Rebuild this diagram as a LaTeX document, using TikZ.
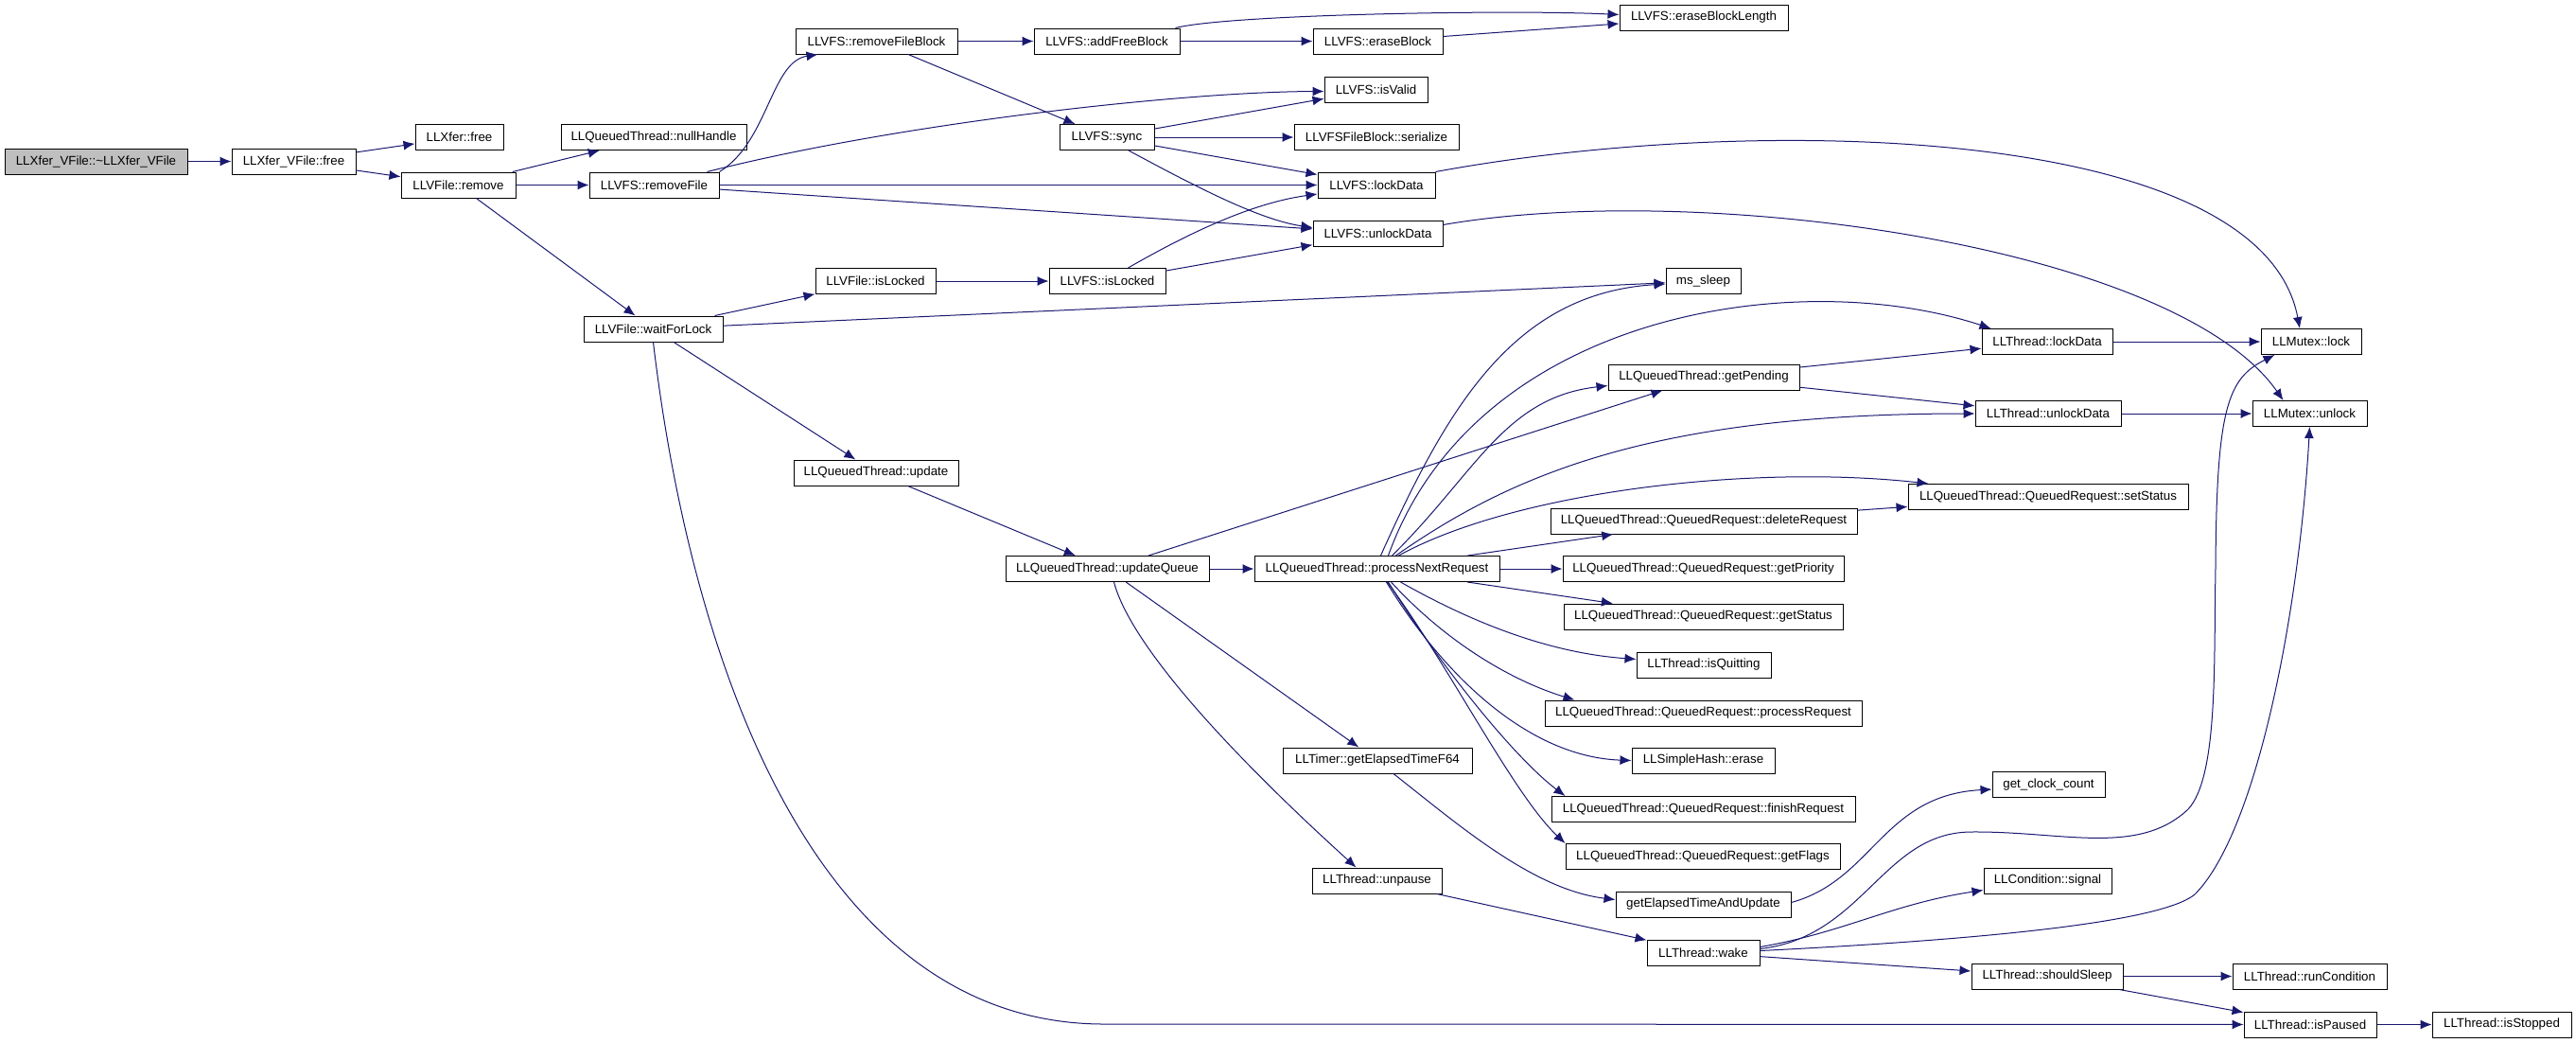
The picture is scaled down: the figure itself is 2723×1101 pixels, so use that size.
\documentclass[tikz,border=0pt]{standalone}
\usepackage{fontspec}
\setmainfont{Liberation Sans}
\usepackage{tikz}
\usetikzlibrary{arrows.meta, calc}
\definecolor{callblue}{RGB}{25,25,112}
\definecolor{rootgray}{RGB}{191,191,191}
\tikzstyle{fn} = [draw=black, line width=0.75pt, rectangle, inner sep=0pt, minimum height=20.25pt, font=\fontsize{10pt}{12pt}\selectfont]
\tikzstyle{call} = [->, draw=callblue, line width=0.75pt]
\tikzset{>={Latex[length=9pt,width=7.5pt]}, boxw/.style={minimum width=#1*0.75pt}}

\begin{document}
\begin{tikzpicture}[x=0.75pt, y=-0.75pt]
\useasboundingbox (0,0) rectangle (2723,1101);
%functions
\node[fn, boxw=193, fill=rootgray] (dtor) at (101.5,170.5) {LLXfer\_VFile::\textasciitilde LLXfer\_VFile};
\node[fn, boxw=131] (vfree) at (310.5,170.5) {LLXfer\_VFile::free};
\node[fn, boxw=93] (xfree) at (485.5,145) {LLXfer::free};
\node[fn, boxw=121] (vremove) at (484.5,195.5) {LLVFile::remove};
\node[fn, boxw=196] (nullh) at (691,145) {LLQueuedThread::nullHandle};
\node[fn, boxw=137] (rmfile) at (691.5,195.5) {LLVFS::removeFile};
\node[fn, boxw=147] (waitlock) at (690.5,347.5) {LLVFile::waitForLock};
\node[fn, boxw=171] (rmblock) at (926.5,43.5) {LLVFS::removeFileBlock};
\node[fn, boxw=127] (fislocked) at (925.5,297) {LLVFile::isLocked};
\node[fn, boxw=174] (qupdate) at (926,499.5) {LLQueuedThread::update};
\node[fn, boxw=154] (addfree) at (1170,43.5) {LLVFS::addFreeBlock};
\node[fn, boxw=100] (sync) at (1170,145) {LLVFS::sync};
\node[fn, boxw=123] (vislocked) at (1170.5,297) {LLVFS::isLocked};
\node[fn, boxw=215] (uqueue) at (1170.5,601) {LLQueuedThread::updateQueue};
\node[fn, boxw=137] (erblock) at (1456.5,43.5) {LLVFS::eraseBlock};
\node[fn, boxw=109] (isvalid) at (1454.5,94.5) {LLVFS::isValid};
\node[fn, boxw=174] (serial) at (1455,145) {LLVFSFileBlock::serialize};
\node[fn, boxw=124] (vlock) at (1455,195.5) {LLVFS::lockData};
\node[fn, boxw=137] (vunlock) at (1456.5,246.5) {LLVFS::unlockData};
\node[fn, boxw=259] (pnr) at (1455.5,601) {LLQueuedThread::processNextRequest};
\node[fn, boxw=200] (elapsed) at (1456,803.5) {LLTimer::getElapsedTimeF64};
\node[fn, boxw=137] (unpause) at (1455.5,930.5) {LLThread::unpause};
\node[fn, boxw=178] (erlen) at (1801,18.5) {LLVFS::eraseBlockLength};
\node[fn, boxw=79] (sleep) at (1800.5,297) {ms\_sleep};
\node[fn, boxw=202] (getpend) at (1801,398.5) {LLQueuedThread::getPending};
\node[fn, boxw=324] (delreq) at (1801,550.5) {LLQueuedThread::QueuedRequest::deleteRequest};
\node[fn, boxw=297] (getprio) at (1800.5,601) {LLQueuedThread::QueuedRequest::getPriority};
\node[fn, boxw=295] (getstat) at (1800.5,651.5) {LLQueuedThread::QueuedRequest::getStatus};
\node[fn, boxw=142] (quitting) at (1801,702.5) {LLThread::isQuitting};
\node[fn, boxw=335] (procreq) at (1800.5,753.5) {LLQueuedThread::QueuedRequest::processRequest};
\node[fn, boxw=151] (hasherase) at (1800.5,803.5) {LLSimpleHash::erase};
\node[fn, boxw=321] (finreq) at (1800.5,855) {LLQueuedThread::QueuedRequest::finishRequest};
\node[fn, boxw=290] (getflags) at (1800,905) {LLQueuedThread::QueuedRequest::getFlags};
\node[fn, boxw=185] (etau) at (1800.5,955.5) {getElapsedTimeAndUpdate};
\node[fn, boxw=119] (wake) at (1800.5,1006.5) {LLThread::wake};
\node[fn, boxw=138] (tlock) at (2164,361) {LLThread::lockData};
\node[fn, boxw=154] (tunlock) at (2165,437) {LLThread::unlockData};
\node[fn, boxw=296] (setstat) at (2165,525) {LLQueuedThread::QueuedRequest::setStatus};
\node[fn, boxw=119] (clock) at (2165.5,829) {get\_clock\_count};
\node[fn, boxw=135] (signal) at (2164.5,930.5) {LLCondition::signal};
\node[fn, boxw=160] (shouldsleep) at (2164,1031.5) {LLThread::shouldSleep};
\node[fn, boxw=106] (mlock) at (2443,361) {LLMutex::lock};
\node[fn, boxw=121] (munlock) at (2441.5,437) {LLMutex::unlock};
\node[fn, boxw=163] (runcond) at (2441.5,1031.5) {LLThread::runCondition};
\node[fn, boxw=140] (paused) at (2442,1082.5) {LLThread::isPaused};
\node[fn, boxw=147] (stopped) at (2644.5,1082.5) {LLThread::isStopped};

%arrows
\draw[call] (dtor) -- (vfree);
\draw[call] (vfree) -- (xfree);
\draw[call] (vfree) -- (vremove);
\draw[call] (vremove) -- (nullh);
\draw[call] (vremove) -- (rmfile);
\draw[call] (vremove) -- (waitlock);
\draw[call] (rmfile.north east) .. controls (812,150) and (815,65) .. ($(rmblock.south west)+(24,0)$);
\draw[call] ($(rmfile.north east)+(-13,0)$) .. controls (950,130) and (1250,97) .. ($(isvalid.west)+(0,2)$);
\draw[call] (rmfile) -- (vlock);
\draw[call] (rmfile) -- (vunlock);
\draw[call] (rmblock) -- (addfree);
\draw[call] (rmblock) -- (sync);
\draw[call] (addfree) -- (erblock);
\draw[call] ($(addfree.north east)+(-5,0)$) .. controls (1300,15) and (1600,10) .. ($(erlen.west)+(0,-3)$);
\draw[call] (erblock) -- (erlen);
\draw[call] (sync) -- (isvalid);
\draw[call] (sync) -- (serial);
\draw[call] (sync) -- (vlock);
\draw[call] ($(sync.south)+(23,0)$) .. controls (1260,195) and (1330,232) .. ($(vunlock.west)+(0,-6)$);
\draw[call] (vlock.north east) .. controls (1850,120) and (2390,130) .. ($(mlock.north)+(-12,0)$);
\draw[call] ($(vunlock.east)+(0,-9)$) .. controls (1800,190) and (2300,260) .. ($(munlock.north)+(-28,0)$);
\draw[call] (fislocked) -- (vislocked);
\draw[call] ($(vislocked.north)+(22,0)$) .. controls (1250,250) and (1320,215) .. ($(vlock.west)+(0,9.5)$);
\draw[call] (vislocked) -- (vunlock);
\draw[call] (waitlock) -- (fislocked);
\draw[call] (waitlock) -- (sleep);
\draw[call] (waitlock) -- (qupdate);
\draw[call] (waitlock.south) .. controls (732,711) and (867,1082) .. (1167,1082) -- (paused);
\draw[call] (qupdate) -- (uqueue);
\draw[call] (uqueue) -- (getpend);
\draw[call] (uqueue) -- (pnr);
\draw[call] (uqueue) -- (elapsed);
\draw[call] ($(uqueue.south)+(7,0)$) .. controls (1200,700) and (1360,850) .. ($(unpause.north)+(-22,0)$);
\draw[call] ($(pnr.north)+(4,0)$) .. controls (1530,430) and (1600,310) .. ($(sleep.west)+(0,3)$);
\draw[call] ($(pnr.north)+(12,0)$) .. controls (1560,330) and (1900,280) .. ($(tlock.north west)+(10,0)$);
\draw[call] ($(pnr.north)+(16,0)$) .. controls (1560,500) and (1590,420) .. ($(getpend.west)+(0,9)$);
\draw[call] ($(pnr.north)+(20,0)$) .. controls (1600,500) and (1750,437) .. (tunlock.west);
\draw[call] ($(pnr.north)+(23,0)$) .. controls (1600,520) and (1850,490) .. ($(setstat.north west)+(22,0)$);
\draw[call] (pnr) -- (delreq);
\draw[call] (pnr) -- (getprio);
\draw[call] (pnr) -- (getstat);
\draw[call] ($(pnr.south)+(25,0)$) .. controls (1560,660) and (1640,690) .. ($(quitting.west)+(0,-6)$);
\draw[call] ($(pnr.south)+(15,0)$) .. controls (1530,680) and (1600,720) .. ($(procreq.north west)+(32,0)$);
\draw[call] ($(pnr.south)+(10,0)$) .. controls (1530,720) and (1620,800) .. (hasherase.west);
\draw[call] ($(pnr.south)+(12,0)$) .. controls (1520,700) and (1600,800) .. ($(finreq.north west)+(15,0)$);
\draw[call] ($(pnr.south)+(11,0)$) .. controls (1530,700) and (1600,840) .. (getflags.north west);
\draw[call] (getpend) -- (tlock);
\draw[call] (getpend) -- (tunlock);
\draw[call] (delreq) -- (setstat);
\draw[call] (tlock) -- (mlock);
\draw[call] (tunlock) -- (munlock);
\draw[call] ($(elapsed.south)+(17,0)$) .. controls (1540,870) and (1620,940) .. ($(etau.west)+(0,-5)$);
\draw[call] (unpause) -- (wake);
\draw[call] ($(etau.east)+(0,-2)$) .. controls (1980,930) and (1990,840) .. ($(clock.west)+(0,5)$);
\draw[call] ($(wake.east)+(0,-4)$) .. controls (1970,990) and (1990,880) .. (2083,879) .. controls (2180,878) and (2260,905) .. (2313,855) .. controls (2345,820) and (2340,700) .. (2342,600) .. controls (2343,430) and (2355,400) .. ($(mlock.south west)+(15,0)$);
\draw[call] ($(wake.east)+(0,-6)$) .. controls (1950,985) and (2000,955) .. ($(signal.west)+(0,10)$);
\draw[call] ($(wake.east)+(0,-2)$) .. controls (2050,995) and (2280,978) .. (2320,945) .. controls (2385,880) and (2430,650) .. (munlock.south);
\draw[call] (wake) -- (shouldsleep);
\draw[call] (shouldsleep) -- (runcond);
\draw[call] (shouldsleep) -- (paused);
\draw[call] (paused) -- (stopped);
\end{tikzpicture}
\end{document}
